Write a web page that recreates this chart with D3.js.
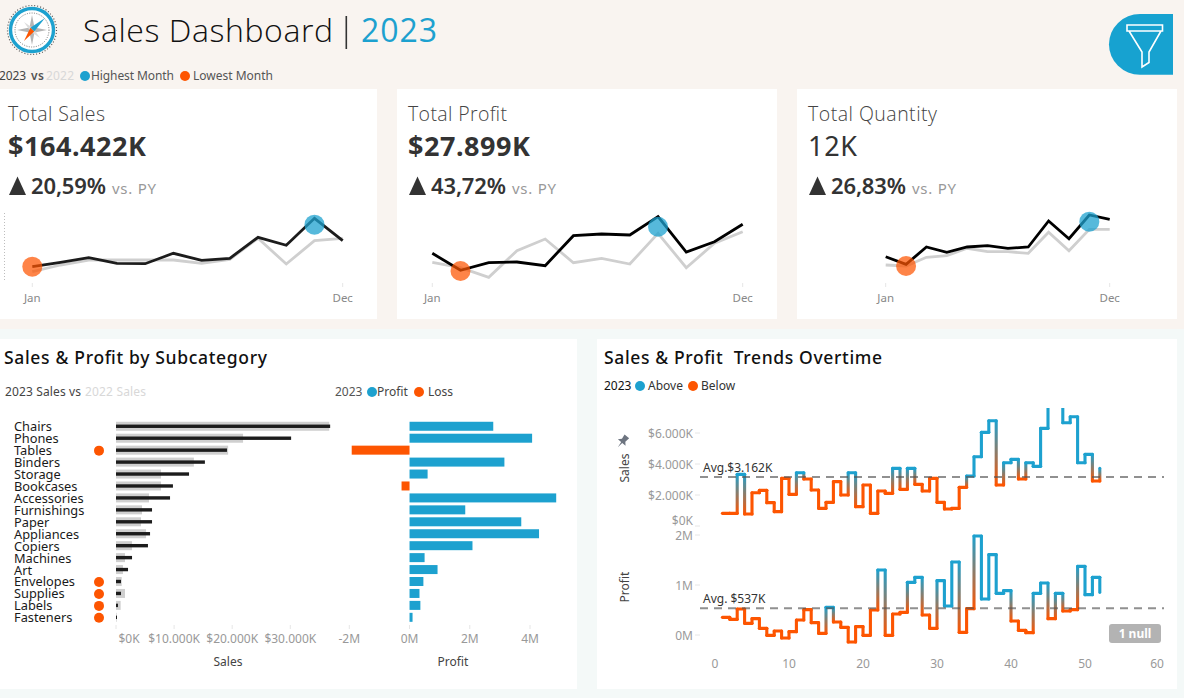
<!DOCTYPE html>
<html><head><meta charset="utf-8">
<script src="https://cdn.jsdelivr.net/npm/d3@7"></script>
<style>
html,body{margin:0;padding:0;background:#f9f4f0;overflow:hidden}
svg{display:block}
text{font-family:"Noto Sans",sans-serif}
</style></head><body>
<svg id="c" width="1184" height="698"></svg>
<script>
const months=["Jan","Feb","Mar","Apr","May","Jun","Jul","Aug","Sep","Oct","Nov","Dec"];
const sales2023=[6620,8800,11080,8300,8100,13270,9790,10780,21220,17250,30660,19530];
const sales2022=[4125,7455,9940,9940,9940,9940,8300,10290,20725,7950,19530,20725];
const profit2023=[1902,882,1338,1380,1158,2958,3060,3000,4098,1980,2598,3642];
const profit2022=[1362,1038,462,2058,2760,1338,1602,1260,3102,1038,2502,3198];
const qty2023=[606,408,858,720,858,892,822,858,1534,1074,1690,1578];
const qty2022=[390,364,590,632,824,736,736,694,1240,762,1318,1318];
const salesMarks={low:6620,high:27500};
const profitMarks={low:840,high:3498};
const qtyMarks={low:364,high:1516};

const subcats=["Chairs","Phones","Tables","Binders","Storage","Bookcases","Accessories","Furnishings","Paper","Appliances","Copiers","Machines","Art","Envelopes","Supplies","Labels","Fasteners"];
const subSales2023=[36860,30140,19100,15300,12570,9800,9300,6200,6200,5860,5500,2760,2070,860,860,340,170];
const subSales2022=[36700,21870,19300,13400,7750,7750,5680,4480,4300,5170,2760,1550,1200,980,1550,800,110];
const subProfit=[2.78,4.07,-1.92,3.15,0.6,-0.265,4.87,1.85,3.71,4.3,2.09,0.5,0.93,0.46,0.33,0.36,0.1];
const flagged=["Tables","Envelopes","Supplies","Labels","Fasteners"];
const salesTicks=[0,10000,20000,30000];
const profitTicks=[-2,0,2,4];

const weeks=d3.range(1,53);
const weeklySales=[817,817,3333,774,2150,2300,1505,925,3075,2043,3440,3030,2322,1140,1527,2860,2000,3440,1247,2645,817,2258,2107,3720,2365,3720,2688,2258,3075,1526,1096,1140,2494,3225,4472,6041,6794,2644,4085,4300,3031,4085,3848,6300,8600,8200,6665,7052,4085,4622,2902,3720];
const weeklyProfit=[353,313,520,233,327,133,-7,80,-60,67,300,507,247,33,553,260,153,-140,167,-7,500,1300,-7,420,453,1053,1153,400,133,1087,580,1460,53,527,1980,720,1607,833,887,280,93,47,833,1040,327,833,480,507,1373,807,1153,853];
const avgSales=3162, avgProfit=537;

const BLUE="#1da1cf",ORANGE="#fd5501",BLACK="#1c1c1c",GRAY="#cfcfcf";
const svg=d3.select("#c");
const defs=svg.append("defs");
function T(x,y,s,o={}){
  const t=svg.append("text").attr("x",x).attr("y",y).text(s)
    .attr("font-size",o.size||12).attr("fill",o.fill||"#444").attr("font-weight",o.weight||400);
  if(o.anchor)t.attr("text-anchor",o.anchor);
  if(o.family)t.attr("style","font-family:"+o.family);
  if(o.w)t.attr("textLength",o.w).attr("lengthAdjust","spacing");
  if(o.rotate)t.attr("transform",`rotate(${o.rotate} ${x} ${y})`);
  return t;
}
// lower background band
svg.append("rect").attr("x",0).attr("y",329).attr("width",1184).attr("height",369).attr("fill","#f4f9f8");
// cards
[[0,89,377,230],[397,89,380,230],[797,89,380,230],[0,339,577,350],[597,339,580,350]].forEach(c=>{
  svg.append("rect").attr("x",c[0]).attr("y",c[1]).attr("width",c[2]).attr("height",c[3]).attr("fill","#fff");
});

// header -----------------------------------------------------
const logo=svg.append("g").attr("transform","translate(32,30)");
logo.append("circle").attr("r",24.5).attr("fill","none").attr("stroke","#555").attr("stroke-width",1.2).attr("stroke-dasharray","1 2");
logo.append("circle").attr("r",21.5).attr("fill","#fff").attr("stroke","#1da1cf").attr("stroke-width",3.4);
logo.append("circle").attr("r",17).attr("fill","none").attr("stroke","#555").attr("stroke-width",.8).attr("stroke-dasharray","1 1.4");
logo.append("path").attr("d","M0,-15L2.5,-2.5L15,0L2.5,2.5L0,15L-2.5,2.5L-15,0L-2.5,-2.5Z").attr("fill","#b5b5b5");
logo.append("path").attr("d","M-8,-8L1.5,-1.5L8,8L-1.5,1.5Z").attr("fill","#dcdcdc");
logo.append("path").attr("d","M13,-12L2.2,1.6L-1.6,-2.2Z").attr("fill","#1da1cf");
logo.append("path").attr("d","M-8,11L2.2,1.6L-1.6,-2.2Z").attr("fill","#fd5501");

T(83,42,"Sales Dashboard",{size:32,fill:"#111",family:"'Open Sans'",weight:300,w:250});
svg.append("rect").attr("x",345.5).attr("y",16).attr("width",1.6).attr("height",33).attr("fill","#333");
T(361,42,"2023",{size:32,fill:BLUE,family:"'Open Sans'",weight:400,w:76});

T(-1,80,"2023",{size:12,fill:"#444",w:27});
T(31,80,"vs",{size:12,fill:"#555",weight:600,w:13});
T(46,80,"2022",{size:12,fill:"#d8d8d8",w:28});
svg.append("circle").attr("cx",85).attr("cy",76).attr("r",5).attr("fill",BLUE);
T(91,80,"Highest Month",{size:12,fill:"#555",w:83});
svg.append("circle").attr("cx",185).attr("cy",76).attr("r",5).attr("fill",ORANGE);
T(193,80,"Lowest Month",{size:12,fill:"#555",w:80});

// filter button
svg.append("path").attr("d","M1173,14L1140,14A31,30.3 0 0 0 1140,74.7L1173,74.7Z").attr("fill","#17a2d0");
svg.append("path").attr("d","M1127,25L1162.5,25L1162.5,31L1127,31ZM1129,31L1142,52L1142,67L1149,62.5L1149,52L1161,31")
  .attr("fill","none").attr("stroke","#fff").attr("stroke-width",1.6).attr("stroke-linejoin","miter");

// KPI cards --------------------------------------------------
function kpi(o){
  T(o.x+8,o.y0+32,o.title,{size:19.5,fill:"#444",family:"'Open Sans'",weight:300,w:o.titleW});
  T(o.x+8,o.y0+67,o.value,{size:27,fill:"#333",weight:o.valueWeight||700,w:o.valueW});
  svg.append("path").attr("d",`M${o.x+9},${o.y0+106}L${o.x+17.5},${o.y0+87.5}L${o.x+26},${o.y0+106}Z`).attr("fill","#333");
  T(o.x+31,o.y0+104.5,o.pct,{size:22,fill:"#333",weight:600,w:75});
  T(o.pctEnd,o.y0+104.5,"vs. PY",{size:15,fill:"#999",w:44});
  const x=d3.scalePoint().domain(months).range([o.x0,o.x1]);
  const y=d3.scaleLinear().domain(o.yDomain).range(o.yRange);
  const line=d3.line().x((d,i)=>x(months[i])).y(d=>y(d));
  [months[0],months[11]].forEach(m=>{
    svg.append("line").attr("x1",x(m)).attr("x2",x(m)).attr("y1",283).attr("y2",287).attr("stroke","#e6e6e6");
    T(x(m),302,m,{size:11.5,fill:"#888",anchor:"middle"});
  });
  svg.append("path").attr("d",line(o.prev)).attr("fill","none").attr("stroke",GRAY).attr("stroke-width",2.8);
  svg.append("path").attr("d",line(o.cur)).attr("fill","none").attr("stroke",o.curStroke||BLACK).attr("stroke-width",2.8);
  svg.append("circle").attr("cx",x(o.lowMonth)).attr("cy",y(o.marks.low)).attr("r",10).attr("fill",ORANGE).attr("opacity",.72);
  svg.append("circle").attr("cx",x(o.highMonth)).attr("cy",y(o.marks.high)).attr("r",10).attr("fill",BLUE).attr("opacity",.75);
}
kpi({x:0,y0:89,title:"Total Sales",titleW:97,value:"$164.422K",valueW:138,pct:"20,59%",pctEnd:112,cur:sales2023,prev:sales2022,
  x0:32.3,x1:342.7,yDomain:[0,37275],yRange:[280,205],marks:salesMarks,lowMonth:"Jan",highMonth:"Nov"});
kpi({x:400,y0:89,title:"Total Profit",titleW:99,value:"$27.899K",valueW:122,pct:"43,72%",pctEnd:512,cur:profit2023,prev:profit2022,
  x0:432.3,x1:742.7,yDomain:[0,4800],yRange:[285,205],marks:profitMarks,lowMonth:"Feb",highMonth:"Sep",curStroke:"#000"});
kpi({x:800,y0:89,title:"Total Quantity",titleW:129,value:"12K",valueW:49,valueWeight:400,pct:"26,83%",pctEnd:912,cur:qty2023,prev:qty2022,
  x0:885.7,x1:1109.7,yDomain:[0,1950],yRange:[280,205],marks:qtyMarks,lowMonth:"Feb",highMonth:"Nov",curStroke:"#000"});
svg.append("line").attr("x1",4.5).attr("x2",4.5).attr("y1",213).attr("y2",282).attr("stroke","#bdbdbd").attr("stroke-dasharray","1 2");

// Subcategory ------------------------------------------------
T(4,364,"Sales & Profit by Subcategory",{size:17.5,fill:"#111",weight:500,w:263});
T(5,396,"2023 Sales vs",{size:12,fill:"#444",w:76});
T(85,396,"2022 Sales",{size:12,fill:"#d8d8d8",w:61});
T(335,396,"2023",{size:12,fill:"#555"});
svg.append("circle").attr("cx",372).attr("cy",392).attr("r",5).attr("fill",BLUE);
T(377,396,"Profit",{size:12,fill:"#444"});
svg.append("circle").attr("cx",419).attr("cy",392).attr("r",5).attr("fill",ORANGE);
T(428,396,"Loss",{size:12,fill:"#444"});

const band=d3.scaleBand().domain(subcats).range([420.3,623.3]);
const xS=d3.scaleLinear().domain([0,30000]).range([116,290.3]);
const xP=d3.scaleLinear().domain([-2,4]).range([349.3,530]);
subcats.forEach((c,i)=>{
  const cy=band(c)+band.bandwidth()/2;
  T(14,cy+(i<13?5.2:4.4),c,{size:12.8,fill:"#1a1a1a"});
  if(flagged.includes(c))svg.append("circle").attr("cx",99).attr("cy",cy+.5).attr("r",5).attr("fill",ORANGE);
});
svg.selectAll(".g22").data(subSales2022).join("rect").attr("x",xS(0))
  .attr("y",(d,i)=>band(subcats[i])+band.bandwidth()/2-4.5).attr("width",d=>xS(d)-xS(0)).attr("height",9).attr("fill",GRAY);
svg.selectAll(".g23").data(subSales2023).join("rect").attr("x",xS(0))
  .attr("y",(d,i)=>band(subcats[i])+band.bandwidth()/2-1.7).attr("width",d=>xS(d)-xS(0)).attr("height",3.4).attr("fill",BLACK);
svg.selectAll(".gp").data(subProfit).join("rect").attr("x",d=>Math.min(xP(d),xP(0)))
  .attr("y",(d,i)=>band(subcats[i])+band.bandwidth()/2-4.5).attr("width",d=>Math.abs(xP(d)-xP(0))).attr("height",9)
  .attr("fill",d=>d<0?ORANGE:BLUE);

const fmtK=d=>"$"+(d===0?"0K":d3.format(",")(d).replace(",",".")+"K");
salesTicks.forEach(d=>{
  svg.append("line").attr("x1",xS(d)).attr("x2",xS(d)).attr("y1",625).attr("y2",629).attr("stroke","#e6e6e6");
  T(d===0?129:xS(d),643,fmtK(d),{size:12,fill:"#999",anchor:"middle"});
});
profitTicks.forEach(d=>{
  svg.append("line").attr("x1",xP(d)).attr("x2",xP(d)).attr("y1",625).attr("y2",629).attr("stroke","#e6e6e6");
  T(xP(d),643,d+"M",{size:12,fill:"#999",anchor:"middle"});
});
T(228,666,"Sales",{size:12,fill:"#444",anchor:"middle"});
T(453,666,"Profit",{size:12,fill:"#444",anchor:"middle"});

// Trends -----------------------------------------------------
T(604,364,"Sales & Profit\u00a0 Trends Overtime",{size:17.5,fill:"#111",weight:500,w:278});
T(604,390,"2023",{size:12,fill:"#111"});
svg.append("circle").attr("cx",640).attr("cy",386).attr("r",5).attr("fill",BLUE);
T(648,390,"Above",{size:12,fill:"#333"});
svg.append("circle").attr("cx",693).attr("cy",386).attr("r",5).attr("fill",ORANGE);
T(701,390,"Below",{size:12,fill:"#333"});

const xW=d3.scaleLinear().domain([0,60]).range([715,1159]);
const yS=d3.scaleLinear().domain([0,6000]).range([526,433]);
const yP=d3.scaleLinear().domain([0,2]).range([635,535]);
defs.append("clipPath").attr("id","clipS").append("rect").attr("x",700).attr("y",408).attr("width",470).attr("height",130);

function stepLine(vals,y,avg,clip,id){
  const g=svg.append("g");
  if(clip)g.attr("clip-path",`url(#${clip})`);
  const col=v=>v>avg?BLUE:ORANGE;
  vals.forEach((v,i)=>{
    const x0=xW(weeks[i]),y0=y(v);
    if(i<vals.length-1){
      const x1=xW(weeks[i+1]),y1=y(vals[i+1]);
      const gid=id+i;
      const lg=defs.append("linearGradient").attr("id",gid).attr("gradientUnits","userSpaceOnUse")
        .attr("x1",x1).attr("x2",x1).attr("y1",y0).attr("y2",y1);
      lg.append("stop").attr("offset",0).attr("stop-color",col(v));
      lg.append("stop").attr("offset",1).attr("stop-color",col(vals[i+1]));
      g.append("path").attr("d",`M${x1},${y0}L${x1},${y1}`)
        .attr("stroke",col(v)===col(vals[i+1])?col(v):`url(#${gid})`).attr("stroke-width",3.1).attr("fill","none").attr("stroke-linecap","round");
      g.append("path").attr("d",`M${x0},${y0}L${x1},${y0}`).attr("stroke",col(v)).attr("stroke-width",3.1).attr("fill","none").attr("stroke-linecap","round");
    }
  });
}
function axisLeft(ticks,y,fmt,labelY){
  ticks.forEach(t=>{
    svg.append("line").attr("x1",695).attr("x2",700).attr("y1",y(t)).attr("y2",y(t)).attr("stroke","#e6e6e6");
    T(693,(labelY&&labelY(t))||y(t)+4.5,fmt(t),{size:12,fill:"#999",anchor:"end"});
  });
}
axisLeft([0,2000,4000,6000],yS,fmtK,t=>t===0?525:null);
axisLeft([0,1,2],yP,d=>d+"M");
stepLine(weeklySales,yS,avgSales,"clipS","gs");
stepLine(weeklyProfit,v=>yP(v/1000),avgProfit,null,"gp");

[[yS(avgSales),"Avg.$3.162K"],[yP(avgProfit/1000),"Avg. $537K"]].forEach(a=>{
  svg.append("line").attr("x1",700).attr("x2",1164).attr("y1",a[0]).attr("y2",a[0])
    .attr("stroke","#555").attr("stroke-opacity",.65).attr("stroke-width",2).attr("stroke-dasharray","8 6");
  T(703,a[0]-5,a[1],{size:12,fill:"#333"});
});
[0,10,20,30,40,50,60].forEach(t=>{
  T(t===60?1157:xW(t),668,t,{size:12,fill:"#999",anchor:"middle"});
});
T(629,468,"Sales",{size:12,fill:"#444",anchor:"middle",rotate:-90});
T(629,587,"Profit",{size:12,fill:"#444",anchor:"middle",rotate:-90});
// pin
svg.append("path").attr("transform","translate(623,441) rotate(40)")
  .attr("d","M-3,-6L3,-6L2.2,-1L5,2L0.7,2L0,8L-0.7,2L-5,2L-2.2,-1Z").attr("fill","#6d7480");
// null badge
svg.append("rect").attr("x",1109).attr("y",624).attr("width",52).attr("height",19).attr("rx",3).attr("fill","#b3b3b3");
T(1135,638,"1 null",{size:12,fill:"#fff",weight:700,anchor:"middle"});
</script></body></html>
